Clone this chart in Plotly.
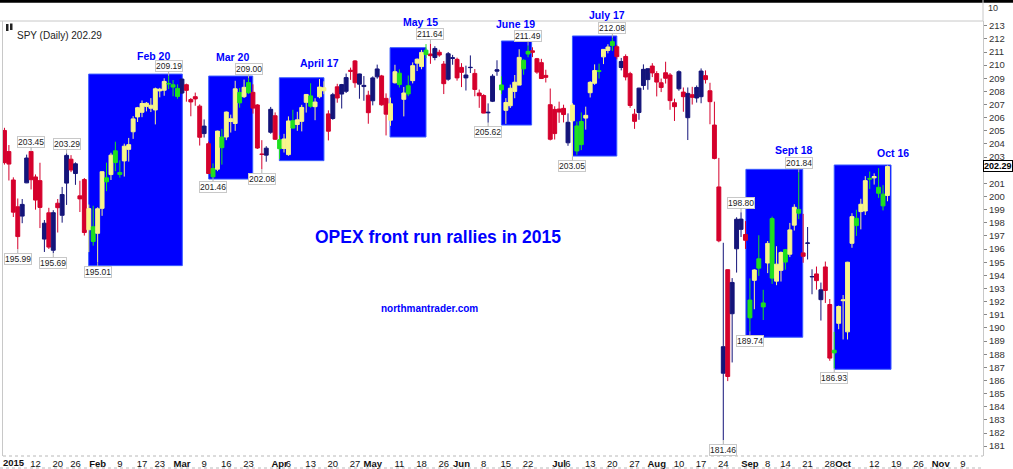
import pandas as pd
import plotly.graph_objects as go

# trading calendar, NYSE holidays removed (Jan 2 2015 -> position 0)
holidays = ["2015-01-01", "2015-01-19", "2015-02-16", "2015-04-03",
            "2015-05-25", "2015-07-03", "2015-09-07", "2015-11-26"]
days = pd.bdate_range("2014-12-31", "2015-11-20")
days = days[~days.isin(pd.to_datetime(holidays))]
pos = {d.strftime("%Y-%m-%d"): i - 1 for i, d in enumerate(days)}

# SPY daily, dividend adjusted, Dec 31 2014 .. Oct 15 2015
opens = [
    205.03, 203.42, 201.26, 199.22, 198.51, 201.04, 203.43, 201.49, 201.21, 196.76, 198.76, 195.91, 199.49, 198.57, 201.02, 202.84, 201.75, 200.05, 201.29, 197.47, 197.70,
    197.20, 199.10, 201.42, 201.67, 203.48, 201.83, 202.71, 203.59, 204.93, 206.06, 206.41, 206.86, 206.72, 206.59, 208.04, 208.09, 208.60, 208.51, 208.23,
    207.88, 208.51, 207.38, 207.60, 206.88, 204.79, 204.02, 202.13, 202.08, 204.53, 204.53, 205.71, 205.56, 207.92, 207.60, 208.67, 207.93, 206.97, 203.23, 203.15, 204.89, 206.15,
    204.32, 203.66, 203.19, 205.77, 205.48, 205.72, 207.17, 207.66, 206.84, 207.59, 208.05, 206.29, 205.94, 208.35, 207.80, 208.01, 209.61, 210.32, 208.55, 208.37, 207.71,
    207.29, 209.11, 209.18, 207.47, 205.81, 208.66, 209.39, 207.40, 208.43, 208.82, 210.15, 209.89, 211.14, 210.85, 210.58, 210.98, 210.08, 208.93, 210.51, 210.44,
    209.83, 209.03, 209.81, 209.37, 207.88, 207.69, 206.37, 207.25, 209.54, 208.49, 206.56, 206.91, 208.00, 208.48, 210.37, 211.05, 211.09, 210.49, 210.19, 209.22, 206.99, 206.63,
    206.66, 206.71, 204.09, 205.76, 205.37, 205.71, 205.97, 207.90, 208.62, 209.58, 210.63, 211.12, 211.79, 211.40, 209.82, 210.66, 209.35, 206.27, 206.40, 208.45, 208.90, 209.93,
    209.36, 208.66, 209.42, 209.25, 207.14, 208.20, 207.95, 206.00, 207.75, 207.50, 207.60, 209.20, 208.05, 205.44, 200.73, 186.55, 194.43, 191.08, 196.02, 197.50, 197.11,
    192.12, 193.62, 195.26, 191.90, 194.94, 198.32, 193.56, 194.38, 195.95, 195.61, 197.82, 199.02, 195.71, 196.44, 193.88, 194.11, 192.15, 194.64, 191.78, 188.30, 190.35,
    192.07, 189.70, 196.44, 198.34, 198.85, 198.90, 201.38, 201.42, 200.70, 200.18, 200.08,
]
highs = [
    205.23, 203.92, 201.46, 199.85, 199.81, 203.19, 203.45, 201.68, 202.57, 198.21, 199.14, 198.96, 199.81, 200.73, 203.29, 203.15, 202.60, 201.20, 201.41, 199.39, 199.30,
    199.18, 201.90, 202.58, 203.33, 204.17, 202.75, 204.02, 204.46, 206.12, 206.82, 207.31, 207.19, 207.49, 208.29, 208.27, 209.00, 209.19, 208.87, 208.54,
    208.95, 208.59, 207.50, 207.91, 207.01, 205.87, 204.18, 202.52, 205.01, 205.15, 206.47, 206.23, 208.81, 208.26, 208.90, 209.00, 208.54, 207.03, 204.29, 203.83, 206.82, 206.40,
    204.66, 204.77, 206.10, 206.60, 206.45, 206.98, 207.78, 208.62, 207.48, 208.94, 208.77, 206.56, 207.89, 208.58, 208.57, 209.36, 209.81, 210.39, 209.35, 209.17, 208.05,
    209.14, 210.04, 209.26, 207.85, 207.53, 210.03, 209.68, 208.34, 209.21, 210.21, 210.51, 211.16, 211.60, 211.64, 211.44, 211.17, 210.31, 211.00, 210.78, 210.57,
    210.15, 209.96, 210.74, 209.70, 208.14, 207.79, 207.09, 209.31, 210.37, 209.15, 207.49, 208.52, 209.25, 211.21, 210.44, 211.49, 211.36, 210.55, 210.48, 209.65, 208.22, 206.87,
    207.22, 206.99, 206.33, 207.11, 205.71, 206.40, 206.84, 208.78, 210.06, 210.11, 211.21, 211.59, 212.08, 211.55, 210.55, 210.82, 209.49, 206.67, 208.28, 210.06, 209.74, 210.15,
    209.54, 208.98, 210.26, 209.40, 207.45, 209.60, 208.30, 208.30, 208.35, 208.45, 209.75, 209.60, 208.66, 207.22, 202.94, 196.48, 194.45, 193.79, 198.42, 198.80, 198.13,
    193.77, 194.46, 197.05, 192.90, 196.61, 198.47, 196.22, 195.82, 196.01, 197.99, 199.41, 201.84, 198.68, 197.68, 194.46, 194.67, 193.45, 195.05, 192.20, 189.70, 191.70,
    192.50, 195.03, 198.73, 198.99, 199.83, 201.55, 201.90, 201.76, 202.16, 200.87, 202.36,
]
lows = [
    202.43, 201.22, 198.44, 195.99, 197.97, 201.02, 200.54, 199.00, 197.60, 195.78, 196.01, 195.69, 197.26, 198.01, 199.36, 201.86, 200.89, 198.82, 197.03, 195.77, 196.26,
    195.01, 198.53, 200.41, 201.26, 201.93, 201.44, 201.52, 202.66, 204.39, 205.67, 206.04, 206.48, 206.43, 205.49, 207.55, 207.67, 208.18, 207.63, 207.44,
    207.80, 207.22, 206.11, 206.91, 203.88, 204.49, 201.72, 201.46, 201.93, 202.43, 204.29, 204.87, 205.00, 206.76, 207.50, 207.81, 206.31, 203.62, 202.08, 202.65, 204.78, 204.31,
    202.85, 203.35, 203.10, 205.19, 205.00, 204.96, 206.39, 206.76, 205.81, 207.48, 207.79, 204.27, 205.84, 207.14, 206.70, 207.88, 208.88, 208.28, 207.44, 207.29, 205.54,
    206.94, 208.97, 206.91, 204.65, 205.38, 208.60, 208.30, 206.10, 207.64, 208.61, 209.55, 209.69, 210.53, 210.10, 210.37, 210.64, 207.80, 208.81, 210.03, 208.82,
    208.33, 208.07, 209.40, 207.63, 206.75, 206.34, 205.62, 207.19, 209.19, 207.80, 205.53, 206.74, 207.48, 208.48, 209.27, 210.60, 210.61, 209.34, 208.95, 208.68, 204.27, 204.34,
    205.61, 205.64, 203.86, 203.05, 203.18, 203.53, 205.09, 207.54, 208.50, 208.98, 210.08, 210.90, 211.08, 210.45, 209.60, 208.84, 206.75, 205.15, 205.84, 208.12, 208.13, 209.09,
    207.62, 207.95, 208.60, 206.60, 205.75, 208.05, 206.45, 204.30, 207.00, 207.15, 207.10, 208.60, 205.50, 202.83, 196.52, 181.46, 185.95, 187.37, 194.21, 196.92, 196.01,
    189.74, 191.42, 193.96, 190.60, 194.17, 193.35, 193.25, 193.53, 194.43, 195.39, 197.41, 198.28, 194.96, 195.21, 192.56, 192.91, 190.56, 191.90, 187.50, 186.93, 189.90,
    189.12, 189.12, 196.10, 197.00, 197.50, 198.59, 200.58, 200.91, 199.90, 198.94, 199.64,
]
closes = [
    202.58, 202.47, 198.81, 196.95, 199.40, 202.93, 201.28, 199.73, 199.17, 197.97, 196.15, 198.77, 199.15, 200.15, 203.13, 202.02, 202.49, 199.82, 197.26, 199.08, 196.58,
    199.07, 201.89, 201.12, 203.15, 202.59, 201.68, 203.83, 203.95, 205.91, 206.76, 207.08, 207.10, 206.95, 208.20, 208.17, 208.76, 208.58, 208.33, 207.62,
    208.94, 208.08, 207.20, 207.43, 204.51, 205.36, 201.75, 201.50, 204.98, 203.72, 206.43, 205.92, 208.20, 207.13, 208.31, 207.90, 206.73, 203.69, 203.21, 203.68, 206.64, 204.36,
    203.64, 204.38, 205.75, 205.21, 205.84, 206.78, 207.77, 206.87, 207.19, 208.33, 208.28, 204.97, 207.75, 207.50, 208.52, 209.05, 209.53, 208.66, 209.33, 208.46, 206.38,
    209.03, 209.71, 206.98, 206.27, 207.06, 209.50, 208.52, 207.88, 207.81, 209.96, 210.45, 210.97, 210.80, 210.72, 211.27, 210.77, 208.59, 210.87, 210.56, 209.03,
    209.45, 209.25, 209.83, 208.15, 207.67, 206.35, 206.41, 209.16, 209.65, 208.12, 207.16, 208.24, 208.70, 210.59, 209.72, 210.85, 210.98, 209.47, 208.98, 209.07, 204.36, 204.79,
    206.43, 206.24, 205.65, 206.96, 203.47, 203.95, 206.18, 208.69, 209.59, 209.52, 211.20, 211.38, 211.49, 210.65, 210.28, 209.10, 206.93, 205.72, 208.25, 209.68, 209.73, 209.41,
    208.71, 208.30, 209.00, 207.30, 206.84, 209.50, 207.60, 207.85, 207.55, 208.30, 209.55, 208.90, 207.22, 202.90, 196.63, 188.57, 186.30, 193.46, 198.27, 198.28, 196.67,
    190.77, 194.41, 194.55, 191.60, 196.43, 193.79, 194.85, 195.74, 195.01, 197.46, 199.18, 198.73, 195.45, 196.46, 193.91, 193.60, 192.90, 192.85, 187.70, 188.10, 191.63,
    192.13, 195.00, 198.47, 197.79, 199.41, 201.21, 201.33, 201.52, 200.25, 199.29, 202.29,
]
dates = [d.strftime("%Y-%m-%d") for d in days[:len(closes)]]
x = [pos[d] for d in dates]
row = {d: i for i, d in enumerate(dates)}

# OPEX run-up boxes: candles painted yellow/green inside them
rally_days = [("2015-01-29", "2015-02-27"), ("2015-03-11", "2015-03-23"),
              ("2015-04-01", "2015-04-16"), ("2015-05-07", "2015-05-19"),
              ("2015-06-12", "2015-06-22"), ("2015-07-07", "2015-07-20"),
              ("2015-09-01", "2015-09-17"), ("2015-09-29", "2015-10-15")]
rally_names = ["Feb 20", "Mar 20", "April 17", "May 15", "June 19", "July 17", "Sept 18", "Oct 16"]
box_left = [17.98, 45.03, 60.95, 85.9, 111.0, 127.0, 166.1, 186.0]
box_right = [39.08, 54.95, 71.0, 94.0, 117.8, 137.0, 178.9, 198.8]
box_low = [194.74, 201.33, 202.73, 204.53, 205.44, 203.08, 189.29, 186.85]
box_high = [209.32, 209.17, 209.04, 211.33, 211.84, 212.22, 202.07, 202.40]
name_x = [32.5, 50.5, 70.1, 92.7, 114.1, 134.8, 176.9, 199.3]
name_y = [210.72, 210.62, 210.17, 213.3, 213.15, 213.3, 203.54, 203.31]
name_shift = [0, 0, 0, 0, 0, 6.5, 0, 0]

# labelled highs / lows
peak_dates = ["2015-01-09", "2015-01-22", "2015-02-25", "2015-03-23", "2015-05-20",
              "2015-06-22", "2015-07-20", "2015-08-28", "2015-09-17"]
trough_dates = ["2015-01-06", "2015-01-16", "2015-02-02", "2015-03-11", "2015-03-26",
                "2015-06-09", "2015-07-07", "2015-08-24", "2015-09-01", "2015-09-29"]

# date ticks (the year label at Jan 2 is drawn separately so it stays on the page)
tick_dates = ["2015-01-12", "2015-01-20", "2015-01-26", "2015-02-02", "2015-02-09",
              "2015-02-17", "2015-02-23", "2015-03-02", "2015-03-09", "2015-03-16", "2015-03-23",
              "2015-04-01", "2015-04-06", "2015-04-13", "2015-04-20", "2015-04-27", "2015-05-01",
              "2015-05-11", "2015-05-18", "2015-05-26", "2015-06-01", "2015-06-08", "2015-06-15",
              "2015-06-22", "2015-07-01", "2015-07-06", "2015-07-13", "2015-07-20", "2015-07-27",
              "2015-08-03", "2015-08-10", "2015-08-17", "2015-08-24", "2015-09-01", "2015-09-08",
              "2015-09-14", "2015-09-21", "2015-09-28", "2015-10-01", "2015-10-12", "2015-10-19",
              "2015-10-26", "2015-11-02", "2015-11-09"]
tick_text = ["12", "20", "26", "<b>Feb</b>", "9", "17", "23", "<b>Mar</b>", "9", "16", "23",
             "<b>Apr</b>", "6", "13", "20", "27", "<b>May</b>", "11", "18", "26", "<b>Jun</b>", "8", "15",
             "22", "<b>Jul</b>", "6", "13", "20", "27", "<b>Aug</b>", "10", "17", "24", "<b>Sep</b>", "8",
             "14", "21", "28", "<b>Oct</b>", "12", "19", "26", "<b>Nov</b>", "9"]
year_label = "2015"
# price ticks; 202 sits under the last-price tag
price_ticks = [v for v in range(181, 214) if v != 202]

inside = [any(pos[a] <= xi <= pos[b] for a, b in rally_days) for xi in x]


def pick(values, flag):
    return [v for v, f in zip(values, inside) if f == flag]


def px_x(px):  # page pixel -> paper
    return (px - 3) / 980


def px_y(py):
    return (456 - py) / 435


NAVY, RED, YELLOW, GREEN, BLUE = "#14147a", "#d5002c", "#f8f58c", "#1fe01f", "#0000ff"

fig = go.Figure()

# regular candles
fig.add_trace(go.Candlestick(
    x=pick(x, False), open=pick(opens, False), high=pick(highs, False),
    low=pick(lows, False), close=pick(closes, False),
    increasing=dict(line=dict(color=NAVY, width=1), fillcolor=NAVY),
    decreasing=dict(line=dict(color=RED, width=1), fillcolor=RED),
    whiskerwidth=0, showlegend=False, hoverinfo="skip"))

# candles inside the rally boxes
fig.add_trace(go.Candlestick(
    x=pick(x, True), open=pick(opens, True), high=pick(highs, True),
    low=pick(lows, True), close=pick(closes, True),
    increasing=dict(line=dict(color=YELLOW, width=1), fillcolor=YELLOW),
    decreasing=dict(line=dict(color=GREEN, width=1), fillcolor=GREEN),
    whiskerwidth=0, showlegend=False, hoverinfo="skip"))

for x0, x1, y0, y1 in zip(box_left, box_right, box_low, box_high):
    fig.add_shape(type="rect", x0=x0, x1=x1, y0=y0, y1=y1, layer="below",
                  fillcolor=BLUE, line=dict(color="#3a5cff", width=1))

for name, nx, ny, sh in zip(rally_names, name_x, name_y, name_shift):
    fig.add_annotation(x=nx, y=ny, text=f"<b>{name}</b>", showarrow=False, yshift=sh,
                       font=dict(family="Arial", size=10.5, color=BLUE))

for d in peak_dates:
    v = highs[row[d]]
    fig.add_annotation(x=pos[d], y=v, text=f"{v:.2f}", showarrow=True, arrowhead=0,
                       arrowwidth=1, arrowcolor="#b0b0b0", ax=0, ay=-9.5,
                       font=dict(family="Arial", size=8.5, color="#222"),
                       bgcolor="white", bordercolor="#c8c8c8", borderwidth=1, borderpad=0)
for d in trough_dates:
    v = lows[row[d]]
    fig.add_annotation(x=pos[d], y=v, text=f"{v:.2f}", showarrow=True, arrowhead=0,
                       arrowwidth=1, arrowcolor="#b0b0b0", ax=0, ay=9.5,
                       font=dict(family="Arial", size=8.5, color="#222"),
                       bgcolor="white", bordercolor="#c8c8c8", borderwidth=1, borderpad=0)

fig.add_annotation(x=96.6, y=196.94, text="<b>OPEX front run rallies in 2015</b>", showarrow=False,
                   font=dict(family="Arial", size=17.5, color=BLUE))
fig.add_annotation(x=94.8, y=191.44, text="<b>northmantrader.com</b>", showarrow=False,
                   font=dict(family="Arial", size=10, color=BLUE))

# year label under the first session
fig.add_annotation(xref="paper", yref="paper", x=px_x(0.5), y=px_y(462.5), xanchor="left",
                   yanchor="middle", text=f"<b>{year_label}</b>", showarrow=False,
                   font=dict(family="Arial", size=9.5, color="#111"))

# header and last price tag
fig.add_annotation(xref="paper", yref="paper", x=px_x(15), y=px_y(27.5), xanchor="left",
                   text="SPY (Daily) 202.29", showarrow=False,
                   font=dict(family="Arial", size=10, color="#222"))
fig.add_shape(type="rect", xref="paper", yref="paper", x0=px_x(6), x1=px_x(8.5),
              y0=px_y(31), y1=px_y(24), fillcolor="#222", line=dict(width=0))
fig.add_shape(type="rect", xref="paper", yref="paper", x0=px_x(10), x1=px_x(12.5),
              y0=px_y(30), y1=px_y(23.5), fillcolor="#222", line=dict(width=0))
fig.add_annotation(xref="paper", x=1, y=closes[-1], xanchor="left", xshift=0,
                   text=f"<b>{closes[-1]:.2f}</b>", showarrow=False,
                   font=dict(family="Arial", size=9, color="#000"),
                   bgcolor="white", bordercolor="#000", borderwidth=1, borderpad=0)
fig.add_annotation(xref="paper", yref="paper", x=px_x(986), y=px_y(1), xanchor="left",
                   text="10", showarrow=False, font=dict(family="Arial", size=9, color="#333"))

# frame pieces
fig.add_shape(type="rect", xref="paper", yref="paper", x0=px_x(0), x1=px_x(1013),
              y0=px_y(2.7), y1=px_y(0), fillcolor="#000", line=dict(width=0))
fig.add_shape(type="line", xref="paper", yref="paper", x0=px_x(0), x1=1, y0=1, y1=1,
              line=dict(color="#c8c8c8", width=1))
fig.add_shape(type="line", xref="paper", yref="paper", x0=1, x1=1, y0=1, y1=px_y(0),
              line=dict(color="#c8c8c8", width=1))
fig.add_shape(type="line", xref="paper", yref="paper", x0=0, x1=1, y0=0, y1=0,
              line=dict(color="#b8b8b8", width=1, dash="dot"))
fig.add_shape(type="line", xref="paper", yref="paper", x0=px_x(0), x1=1, y0=px_y(468), y1=px_y(468),
              line=dict(color="#b8b8b8", width=1, dash="dot"))

fig.update_layout(
    width=1013, height=469, margin=dict(l=3, r=30, t=21, b=13, autoexpand=False),
    paper_bgcolor="white", plot_bgcolor="white",
    font=dict(family="Arial", color="#222"),
    boxgap=0.12, boxgroupgap=0, showlegend=False,
    xaxis=dict(range=[-1.33, 219.53], tickvals=[pos[d] for d in tick_dates], ticktext=tick_text,
               tickangle=0, ticklabeloverflow="allow", automargin=False, showgrid=False,
               zeroline=False, showline=False, ticks="",
               tickfont=dict(family="Arial", size=9.5, color="#111"), rangeslider=dict(visible=False)),
    yaxis=dict(side="right", range=[180.25, 213.36], tickvals=price_ticks, automargin=False,
               showgrid=False, zeroline=False, showline=True, mirror=True, linecolor="#c8c8c8",
               linewidth=1, ticks="outside", ticklen=3, tickcolor="#888",
               tickfont=dict(family="Arial", size=9.5, color="#333")),
)

# page body has a default 8px margin; drop it so the figure sits at the top-left corner
fig.write_html("out.html", config={"displayModeBar": False},
               post_script="document.body.style.margin='0';document.body.style.padding='0';")
